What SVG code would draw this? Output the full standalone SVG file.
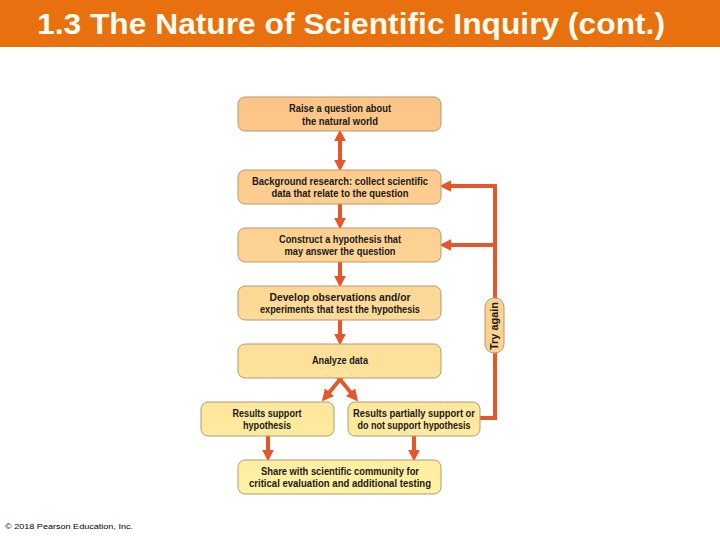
<svg xmlns="http://www.w3.org/2000/svg" width="720" height="540" viewBox="0 0 720 540">
<style>
.box{stroke:#B59A6E;stroke-width:1;fill:url(#g)}
.t{font-family:"Liberation Sans",Arial,sans-serif;font-weight:bold;font-size:10.5px;fill:#1a1a1a;text-anchor:middle}
.c{stroke:#E5562A;stroke-width:4;fill:none}
.ca{stroke:#E5562A;stroke-width:4;fill:none;marker-end:url(#ah)}
</style>
<defs>
<linearGradient id="g" gradientUnits="userSpaceOnUse" x1="0" y1="97" x2="0" y2="494">
<stop offset="0" stop-color="#FCC487"/>
<stop offset="0.45" stop-color="#FCD595"/>
<stop offset="1" stop-color="#FEF2A3"/>
</linearGradient>
<marker id="ah" markerUnits="userSpaceOnUse" markerWidth="12" markerHeight="12" viewBox="0 0 10 10" refX="2" refY="5" orient="auto-start-reverse">
<path d="M0,0 L10,5 L0,10 z" fill="#E5562A"/>
</marker>
</defs>
<rect x="0" y="0" width="720" height="47" fill="#E8700E"/>
<text x="37" y="34" font-family="Liberation Sans,Arial,sans-serif" font-weight="bold" font-size="29" fill="#FFFBEF" textLength="628" lengthAdjust="spacingAndGlyphs">1.3 The Nature of Scientific Inquiry (cont.)</text>

<g id="connectors">
<line class="ca" x1="340" y1="139" x2="340" y2="162" marker-start="url(#ah)"/>
<line class="ca" x1="340" y1="204" x2="340" y2="220"/>
<line class="ca" x1="340" y1="262" x2="340" y2="278"/>
<line class="ca" x1="340" y1="320" x2="340" y2="336"/>
<path class="ca" d="M342,377 L328,394"/>
<path class="ca" d="M338,377 L352,394"/>
<line class="ca" x1="268" y1="436" x2="268" y2="452"/>
<line class="ca" x1="414" y1="436" x2="414" y2="452"/>
<path class="c" d="M480,418 H495 V186"/>
<line class="ca" x1="497" y1="186" x2="449" y2="186"/>
<line class="ca" x1="495" y1="245" x2="449" y2="245"/>
</g>

<g id="n1"><rect class="box" x="238" y="97" width="203" height="34" rx="7"/>
<text class="t" x="340" y="112" textLength="102" lengthAdjust="spacingAndGlyphs">Raise a question about</text>
<text class="t" x="340" y="125" textLength="76" lengthAdjust="spacingAndGlyphs">the natural world</text></g>
<g id="n2"><rect class="box" x="238" y="170" width="203" height="34" rx="7"/>
<text class="t" x="340" y="185" textLength="176" lengthAdjust="spacingAndGlyphs">Background research: collect scientific</text>
<text class="t" x="340" y="197" textLength="137" lengthAdjust="spacingAndGlyphs">data that relate to the question</text></g>
<g id="n3"><rect class="box" x="238" y="228" width="203" height="34" rx="7"/>
<text class="t" x="340" y="243" textLength="122" lengthAdjust="spacingAndGlyphs">Construct a hypothesis that</text>
<text class="t" x="340" y="255" textLength="111" lengthAdjust="spacingAndGlyphs">may answer the question</text></g>
<g id="n4"><rect class="box" x="238" y="286" width="203" height="34" rx="7"/>
<text class="t" x="340" y="301" textLength="141" lengthAdjust="spacingAndGlyphs">Develop observations and/or</text>
<text class="t" x="340" y="313" textLength="160" lengthAdjust="spacingAndGlyphs">experiments that test the hypothesis</text></g>
<g id="n5"><rect class="box" x="238" y="344" width="203" height="34" rx="7"/>
<text class="t" x="340" y="364" textLength="56" lengthAdjust="spacingAndGlyphs">Analyze data</text></g>
<g id="n6"><rect class="box" x="201" y="402" width="133" height="34" rx="7"/>
<text class="t" x="267" y="417" textLength="69" lengthAdjust="spacingAndGlyphs">Results support</text>
<text class="t" x="267" y="429" textLength="48" lengthAdjust="spacingAndGlyphs">hypothesis</text></g>
<g id="n7"><rect class="box" x="348" y="402" width="132" height="34" rx="7"/>
<text class="t" x="414" y="417" textLength="122" lengthAdjust="spacingAndGlyphs">Results partially support or</text>
<text class="t" x="414" y="429" textLength="113" lengthAdjust="spacingAndGlyphs">do not support hypothesis</text></g>
<g id="n8"><rect class="box" x="238" y="460" width="203" height="34" rx="7"/>
<text class="t" x="340" y="475" textLength="158" lengthAdjust="spacingAndGlyphs">Share with scientific community for</text>
<text class="t" x="340" y="487" textLength="182" lengthAdjust="spacingAndGlyphs">critical evaluation and additional testing</text></g>
<g id="tryagain"><rect x="485" y="298" width="19" height="55" rx="9" fill="#FAD38E" stroke="#B59A6E" stroke-width="1"/>
<text class="t" transform="translate(498,326) rotate(-90)" x="0" y="0" textLength="48" lengthAdjust="spacingAndGlyphs">Try again</text></g>

<text x="5" y="529" font-family="Liberation Sans,Arial,sans-serif" font-size="8" fill="#000" textLength="128" lengthAdjust="spacingAndGlyphs">© 2018 Pearson Education, Inc.</text>
</svg>
